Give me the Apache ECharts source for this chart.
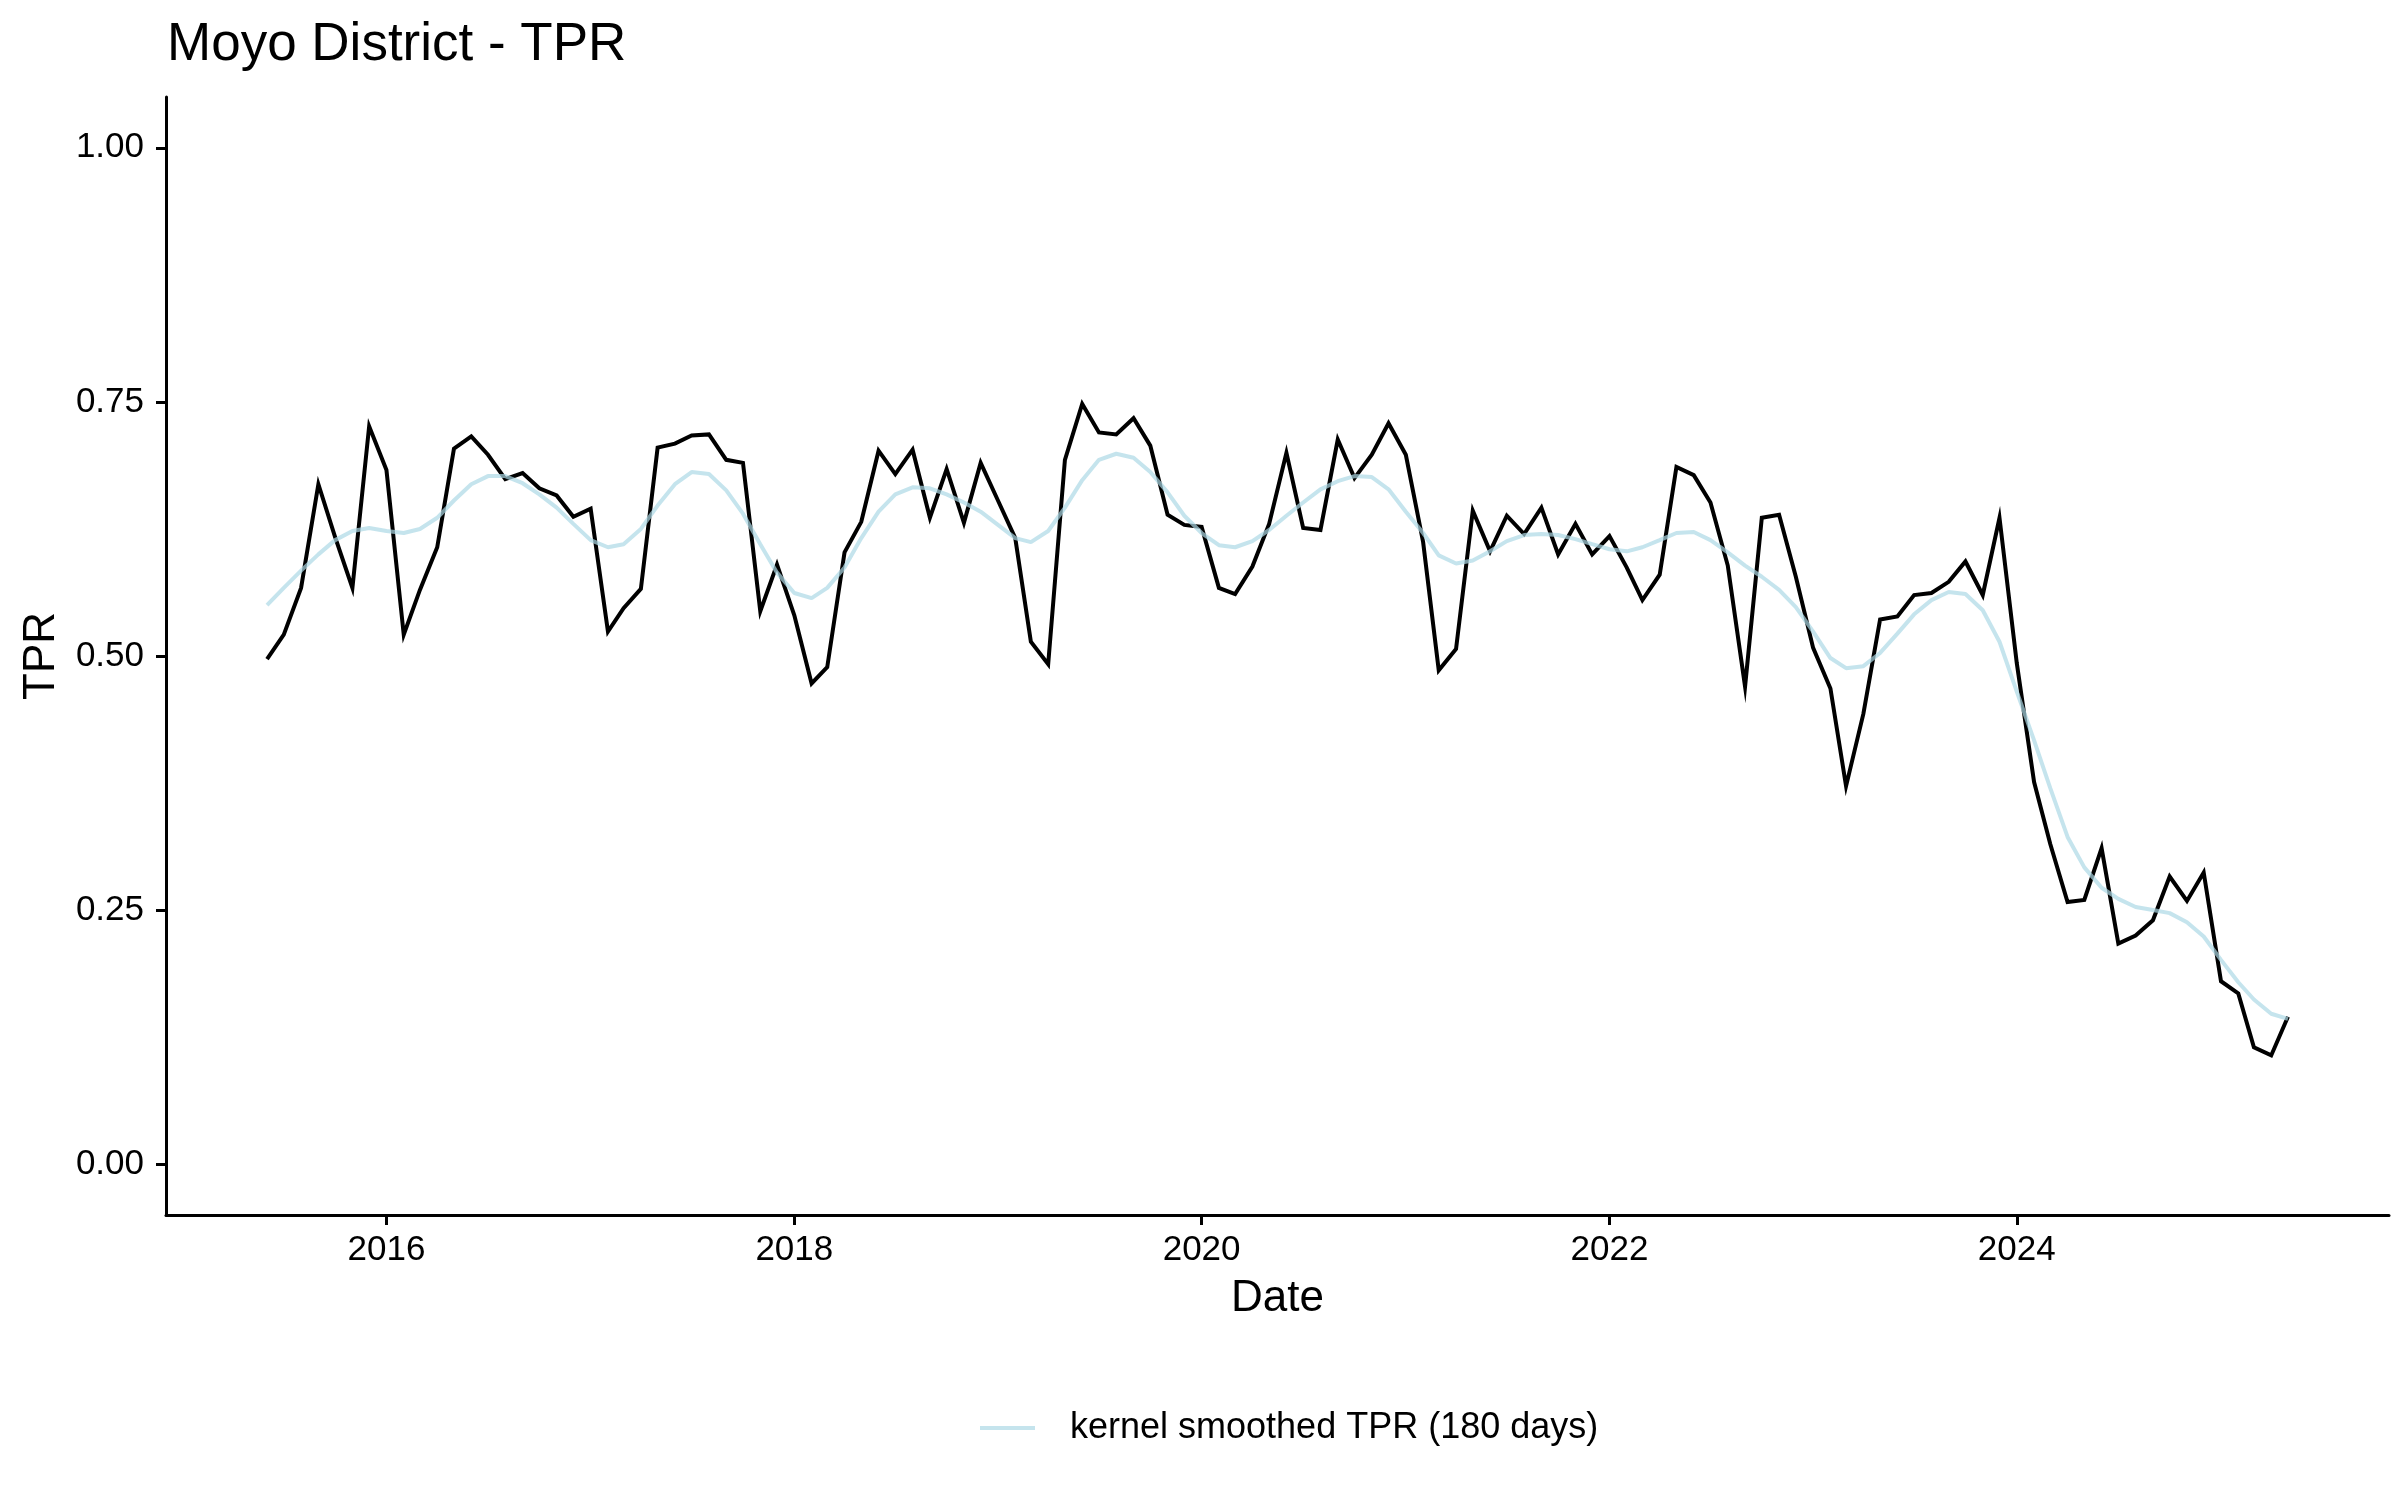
<!DOCTYPE html>
<html>
<head>
<meta charset="utf-8">
<script src="https://cdn.jsdelivr.net/npm/echarts@6/dist/echarts.min.js"></script>
<style>
html,body{margin:0;padding:0;background:#fff;}
#chart{width:2400px;height:1500px;}
</style>
</head>
<body>
<div id="chart"></div>
<script>
// Monthly dates (first of month)
const dates = [
  '2015-06-01','2015-07-01','2015-08-01','2015-09-01','2015-10-01','2015-11-01','2015-12-01',
  '2016-01-01','2016-02-01','2016-03-01','2016-04-01','2016-05-01','2016-06-01','2016-07-01','2016-08-01','2016-09-01','2016-10-01','2016-11-01','2016-12-01',
  '2017-01-01','2017-02-01','2017-03-01','2017-04-01','2017-05-01','2017-06-01','2017-07-01','2017-08-01','2017-09-01','2017-10-01','2017-11-01','2017-12-01',
  '2018-01-01','2018-02-01','2018-03-01','2018-04-01','2018-05-01','2018-06-01','2018-07-01','2018-08-01','2018-09-01','2018-10-01','2018-11-01','2018-12-01',
  '2019-01-01','2019-02-01','2019-03-01','2019-04-01','2019-05-01','2019-06-01','2019-07-01','2019-08-01','2019-09-01','2019-10-01','2019-11-01','2019-12-01',
  '2020-01-01','2020-02-01','2020-03-01','2020-04-01','2020-05-01','2020-06-01','2020-07-01','2020-08-01','2020-09-01','2020-10-01','2020-11-01','2020-12-01',
  '2021-01-01','2021-02-01','2021-03-01','2021-04-01','2021-05-01','2021-06-01','2021-07-01','2021-08-01','2021-09-01','2021-10-01','2021-11-01','2021-12-01',
  '2022-01-01','2022-02-01','2022-03-01','2022-04-01','2022-05-01','2022-06-01','2022-07-01','2022-08-01','2022-09-01','2022-10-01','2022-11-01','2022-12-01',
  '2023-01-01','2023-02-01','2023-03-01','2023-04-01','2023-05-01','2023-06-01','2023-07-01','2023-08-01','2023-09-01','2023-10-01','2023-11-01','2023-12-01',
  '2024-01-01','2024-02-01','2024-03-01','2024-04-01','2024-05-01','2024-06-01','2024-07-01','2024-08-01','2024-09-01','2024-10-01','2024-11-01','2024-12-01',
  '2025-01-01','2025-02-01','2025-03-01','2025-04-01','2025-05-01'
];

// Observed TPR (monthly)
const tpr = [
  0.497,0.521,0.567,0.669,0.617,0.567,0.726,0.683,0.521,0.565,
  0.607,0.704,0.716,0.698,0.674,0.680,0.665,0.658,0.637,0.645,
  0.524,0.547,0.566,0.705,0.709,0.717,0.718,0.693,0.690,0.544,
  0.590,0.540,0.473,0.489,0.602,0.632,0.702,0.679,0.703,0.636,
  0.684,0.631,0.690,0.653,0.616,0.514,0.492,0.693,0.748,0.720,
  0.718,0.734,0.707,0.639,0.629,0.627,0.567,0.561,0.588,0.630,
  0.700,0.626,0.624,0.713,0.675,0.698,0.729,0.698,0.612,0.486,
  0.507,0.643,0.603,0.638,0.620,0.646,0.600,0.630,0.600,0.618,
  0.587,0.555,0.580,0.686,0.678,0.651,0.589,0.470,0.636,0.639,
  0.578,0.508,0.468,0.372,0.443,0.536,0.539,0.560,0.562,0.573,
  0.593,0.560,0.636,0.493,0.376,0.315,0.258,0.260,0.311,0.217,
  0.225,0.240,0.283,0.259,0.287,0.180,0.168,0.115,0.107,0.145
];

// Kernel smoothed TPR (180 days)
const smoothed = [
  0.550,0.567,0.584,0.600,0.614,0.623,0.626,0.623,0.621,0.625,
  0.636,0.653,0.669,0.677,0.677,0.670,0.659,0.646,0.630,0.614,
  0.607,0.610,0.625,0.648,0.669,0.681,0.679,0.663,0.640,0.610,
  0.582,0.562,0.557,0.567,0.587,0.616,0.642,0.659,0.666,0.665,
  0.659,0.651,0.642,0.629,0.616,0.612,0.623,0.646,0.673,0.693,
  0.699,0.695,0.681,0.661,0.638,0.621,0.609,0.607,0.613,0.624,
  0.638,0.651,0.664,0.672,0.677,0.676,0.664,0.642,0.621,0.599,
  0.591,0.594,0.603,0.613,0.619,0.620,0.619,0.615,0.610,0.605,
  0.603,0.607,0.614,0.621,0.622,0.614,0.602,0.589,0.578,0.565,
  0.548,0.524,0.498,0.488,0.490,0.503,0.522,0.541,0.555,0.563,
  0.561,0.545,0.514,0.465,0.417,0.370,0.322,0.292,0.272,0.261,
  0.253,0.250,0.247,0.238,0.224,0.201,0.179,0.162,0.148,0.143
];

const xTickDates = ['2016-01-01','2018-01-01','2020-01-01','2022-01-01','2024-01-01'];
const yTicks = [0, 0.25, 0.5, 0.75, 1.0];

const toTs = s => { const p = s.split('-').map(Number); return Date.UTC(p[0], p[1]-1, p[2]); };
const xs = dates.map(toTs);
const span = xs[xs.length-1] - xs[0];
const xMin = xs[0] - 0.05*span, xMax = xs[xs.length-1] + 0.05*span;
const xTickTs = xTickDates.map(toTs);

const FONT = 'Liberation Sans';
const chart = echarts.init(document.getElementById('chart'), null, {renderer:'canvas'});
chart.setOption({
  animation: false,
  backgroundColor: '#ffffff',
  title: {
    text: 'Moyo District - TPR',
    left: 162, top: 14,
    textStyle: {fontFamily: FONT, fontSize: 53, fontWeight: 'normal', color: '#000'}
  },
  legend: {
    data: ['kernel smoothed TPR (180 days)'],
    left: 975, top: 1405,
    icon: 'rect', itemWidth: 55, itemHeight: 4, itemGap: 20,
    textStyle: {fontFamily: FONT, fontSize: 36, color: '#000', padding: [0,0,0,30]}
  },
  grid: {left: 166, right: 11, top: 97, bottom: 285, containLabel: false},
  xAxis: {
    type: 'value', min: xMin, max: xMax, scale: true,
    name: 'Date', nameLocation: 'middle', nameGap: 62,
    nameTextStyle: {fontFamily: FONT, fontSize: 44, color: '#000'},
    axisLine: {show: true, onZero: false, lineStyle: {color: '#000', width: 3}},
    axisTick: {show: true, length: 10, lineStyle: {color: '#000', width: 3}, customValues: xTickTs},
    axisLabel: {
      customValues: xTickTs, margin: 18,
      fontFamily: FONT, fontSize: 35, color: '#000',
      formatter: v => String(new Date(v).getUTCFullYear())
    },
    splitLine: {show: false}
  },
  yAxis: {
    type: 'value', min: -0.05, max: 1.05,
    name: 'TPR', nameLocation: 'middle', nameGap: 102, nameRotate: 90,
    nameTextStyle: {fontFamily: FONT, fontSize: 44, color: '#000'},
    axisLine: {show: true, onZero: false, lineStyle: {color: '#000', width: 3}},
    axisTick: {show: true, length: 10, lineStyle: {color: '#000', width: 3}, customValues: yTicks},
    axisLabel: {
      customValues: yTicks, margin: 22,
      fontFamily: FONT, fontSize: 35, color: '#000',
      formatter: v => v.toFixed(2)
    },
    splitLine: {show: false}
  },
  series: [
    {
      name: 'TPR', type: 'line', showSymbol: false, symbol: 'none',
      data: xs.map((t,i) => [t, tpr[i]]),
      lineStyle: {color: '#000', width: 4, join: 'miter'},
      itemStyle: {color: '#000'}
    },
    {
      name: 'kernel smoothed TPR (180 days)', type: 'line', showSymbol: false, symbol: 'none',
      data: xs.map((t,i) => [t, smoothed[i]]),
      lineStyle: {color: 'rgba(173,216,230,0.7)', width: 4},
      itemStyle: {color: 'rgba(173,216,230,0.7)'}
    }
  ]
});
</script>
</body>
</html>
